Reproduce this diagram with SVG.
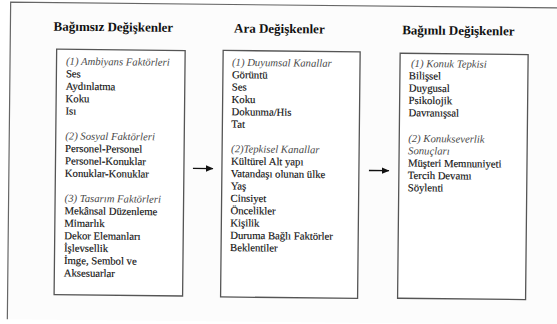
<svg xmlns="http://www.w3.org/2000/svg" width="557" height="324" viewBox="0 0 557 324">
<defs>
<linearGradient id="fade" x1="0" y1="0" x2="1" y2="0">
<stop offset="0" stop-color="#555"/>
<stop offset="0.75" stop-color="#888"/>
<stop offset="1" stop-color="#f0f0f0"/>
</linearGradient>
<marker id="ah" markerWidth="8" markerHeight="8" refX="7" refY="4" orient="auto" markerUnits="userSpaceOnUse">
<path d="M0,0.8 L7.5,4 L0,7.2 Z" fill="#111"/>
</marker>
<style>
text{font-family:'Liberation Serif','DejaVu Serif',serif}
.hd{font-weight:bold;font-size:13px;fill:#111;text-anchor:middle}
.t{font-size:10.7px;fill:#111;stroke:#111;stroke-width:0.15}
.it{font-style:italic;font-size:10.7px;fill:#4a4a4a}
.box{fill:#fff;stroke:#555;stroke-width:1.3}
.conn{stroke:#111;stroke-width:1.4;fill:none}
</style>
</defs>
<rect width="557" height="324" fill="#fff"/>
<g transform="rotate(0.6 278 162)" font-family="Liberation Serif, serif">
<g id="frame">
<rect x="9" y="5" width="560" height="317" fill="#fcfcfc"/>
<path d="M569,5 L9,5 L9,322" fill="none" stroke="#666" stroke-width="1.2"/>
<path d="M9,322 L520,322" fill="none" stroke="url(#fade)" stroke-width="1.6"/>
</g>
<g id="headers">
<text class="hd" x="112" y="33">Bağımsız Değişkenler</text>
<text class="hd" x="278" y="33">Ara Değişkenler</text>
<text class="hd" x="457" y="33">Bağımlı Değişkenler</text>
</g>
<g id="bagimsiz">
<rect class="box" x="55.5" y="51.5" width="128.5" height="245.5"/>
<text class="it" x="65" y="67">(1) Ambiyans Faktörleri</text>
<text class="t" x="65" y="79.5">Ses</text>
<text class="t" x="65" y="91.9">Aydınlatma</text>
<text class="t" x="65" y="104.4">Koku</text>
<text class="t" x="65" y="116.8">Isı</text>
<text class="it" x="65" y="141.7">(2) Sosyal Faktörleri</text>
<text class="t" x="65" y="154.2">Personel-Personel</text>
<text class="t" x="65" y="166.6">Personel-Konuklar</text>
<text class="t" x="65" y="179">Konuklar-Konuklar</text>
<text class="it" x="65" y="204">(3) Tasarım Faktörleri</text>
<text class="t" x="65" y="216.5">Mekânsal Düzenleme</text>
<text class="t" x="65" y="228.9">Mimarlık</text>
<text class="t" x="65" y="241.4">Dekor Elemanları</text>
<text class="t" x="65" y="253.8">İşlevsellik</text>
<text class="t" x="65" y="266.2">İmge, Sembol ve</text>
<text class="t" x="65" y="278.7">Aksesuarlar</text>
</g>
<g id="ara">
<rect class="box" x="222" y="51" width="137" height="246.5"/>
<text class="it" x="231" y="66.3">(1) Duyumsal Kanallar</text>
<text class="t" x="231" y="78.7">Görüntü</text>
<text class="t" x="231" y="91">Ses</text>
<text class="t" x="231" y="103.4">Koku</text>
<text class="t" x="231" y="115.7">Dokunma/His</text>
<text class="t" x="231" y="128.1">Tat</text>
<text class="it" x="231" y="152.8">(2)Tepkisel Kanallar</text>
<text class="t" x="231" y="165.2">Kültürel Alt yapı</text>
<text class="t" x="231" y="177.5">Vatandaşı olunan ülke</text>
<text class="t" x="231" y="189.9">Yaş</text>
<text class="t" x="231" y="202.2">Cinsiyet</text>
<text class="t" x="231" y="214.6">Öncelikler</text>
<text class="t" x="231" y="226.9">Kişilik</text>
<text class="t" x="231" y="239.3">Duruma Bağlı Faktörler</text>
<text class="t" x="231" y="251.6">Beklentiler</text>
</g>
<g id="bagimli">
<rect class="box" x="399" y="52" width="128" height="245"/>
<text class="it" x="410" y="65.6">(1) Konuk Tepkisi</text>
<text class="t" x="408" y="77.9">Bilişsel</text>
<text class="t" x="408" y="90.2">Duygusal</text>
<text class="t" x="408" y="102.5">Psikolojik</text>
<text class="t" x="408" y="114.8">Davranışsal</text>
<text class="it" x="408" y="140.6">(2) Konukseverlik</text>
<text class="it" x="408" y="152.9">Sonuçları</text>
<text class="t" x="408" y="165.2">Müşteri Memnuniyeti</text>
<text class="t" x="408" y="177.5">Tercih Devamı</text>
<text class="t" x="408" y="189.8">Söylenti</text>
</g>
<g id="connectors">
<line class="conn" x1="193" y1="169.3" x2="213" y2="169.3" marker-end="url(#ah)"/>
<line class="conn" x1="369" y1="169.5" x2="389" y2="169.5" marker-end="url(#ah)"/>
</g>
</g>
</svg>
